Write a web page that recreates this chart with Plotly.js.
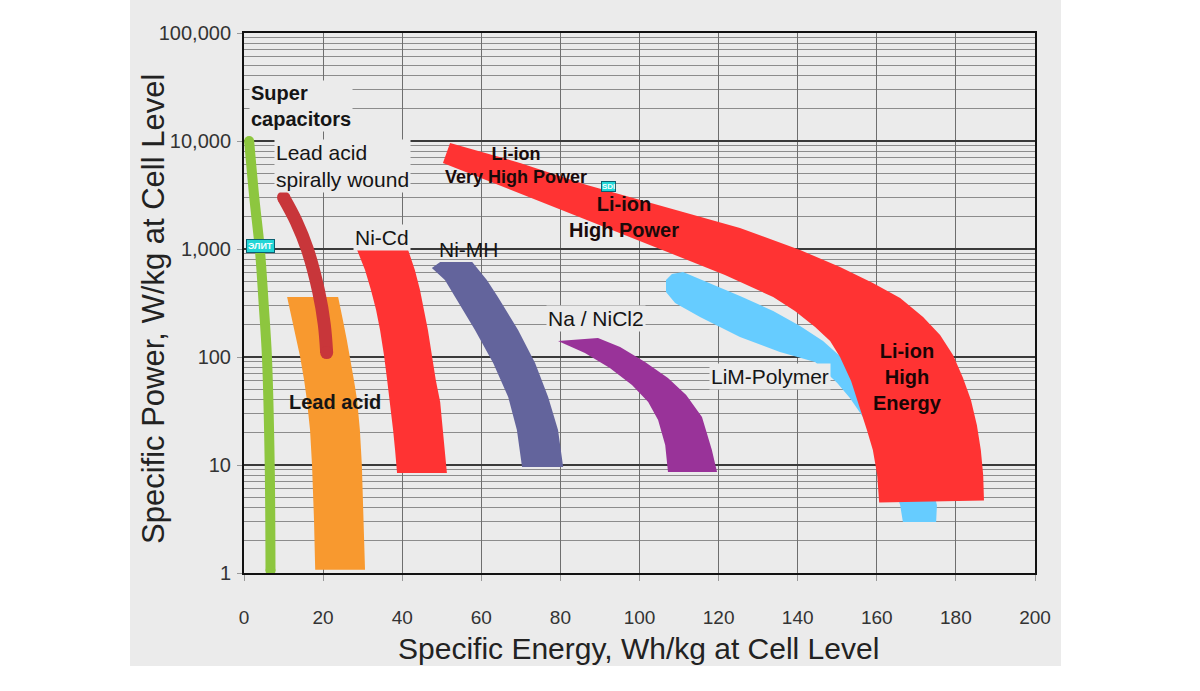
<!DOCTYPE html>
<html><head><meta charset="utf-8">
<script src="https://cdn.plot.ly/plotly-3.0.1.min.js"></script>
<style>html,body{margin:0;padding:0;background:#fff}#chart{width:1200px;height:691px}</style>
</head><body><div id="chart"></div>
<script>
// ---- Data (Specific Energy Wh/kg, Specific Power W/kg) ----
// Super capacitors (thin curve)
const superCapE = [1.3, 2.6, 4.0, 5.0, 5.8, 6.5, 6.7];
const superCapP = [10000, 3000, 1000, 300, 100, 10, 1.05];
// Lead acid spirally wound (thick curve)
const spiralE = [10.0, 13.2, 16.0, 18.9, 20.3, 20.9];
const spiralP = [3000, 1800, 1000, 400, 200, 110];
// Lead acid band (low / high energy edge at each power)
const leadAcidP = [359, 220, 144, 100, 61, 40, 21.1, 10, 3.1, 1.07];
const leadAcidLow = [10.9, 12.1, 13.2, 14.2, 15.2, 15.9, 16.7, 17.2, 17.7, 18.0];
const leadAcidHigh = [23.8, 25.0, 26.0, 26.8, 27.8, 28.6, 29.3, 29.8, 30.3, 30.6];
// Ni-Cd band
const niCdP = [979, 639, 417, 272, 178, 104, 61, 38.3, 21.1, 13.8, 8.43];
const niCdLow = [28.6, 30.6, 32.1, 33.4, 34.4, 35.4, 36.2, 36.9, 37.7, 38.2, 38.7];
const niCdHigh = [41.5, 43.2, 44.5, 45.5, 46.5, 47.5, 48.5, 49.6, 50.3, 50.8, 51.3];
// Ni-MH band
const niMhOuterE = [57.7, 61.4, 64.2, 69.3, 73.6, 76.9, 79.4, 80.7];
const niMhOuterP = [759, 517, 359, 178, 88, 42.6, 21.1, 9.58];
const niMhInnerE = [49.6, 47.5, 50.8, 53.4, 58.4, 63.0, 66.8, 69.0, 70.3];
const niMhInnerP = [759, 667, 517, 359, 178, 88, 42.6, 21.1, 9.58];
// Na / NiCl2 band
const naOuterE = [89.5, 95.1, 101.4, 107.2, 111.8, 115.8, 118.3, 119.6];
const naOuterP = [150, 124, 90, 64, 44.5, 27.8, 13.8, 8.6];
const naInnerE = [79.4, 86.2, 92.5, 98.1, 102.2, 104.7, 106.5, 107.2];
const naInnerP = [141, 109, 79, 55, 38.3, 26.1, 15.3, 8.6];
// LiM-Polymer band
const limOuterE = [106.7, 108.2, 111.0, 115.3, 125.4, 133.8, 140.6, 146.4, 153.2, 160.8, 168.4, 173.5, 175.2, 175.0];
const limOuterP = [517, 587, 612, 527, 367, 267, 194, 141, 84.3, 40, 15.3, 7.26, 4.26, 2.97];
const limInnerE = [106.7, 109.0, 115.3, 125.4, 135.5, 144.4, 150.0, 153.2, 156.5, 160.3, 163.3, 165.9, 166.6];
const limInnerP = [400, 316, 235, 153, 111, 90, 57.4, 41.7, 27.8, 15.3, 8.08, 4.26, 2.97];
// Li-ion band (very high power -> high power -> high energy)
const liOuterE = [52.1, 69.8, 86.7, 107.7, 125.4, 140.6, 150.7, 159.0, 165.9, 171.7, 176.0, 179.3, 181.8, 183.8, 185.3, 186.3, 186.9, 187.1];
const liOuterP = [9580, 6260, 3915, 2400, 1563, 979, 681, 484, 352, 235, 160, 104, 64, 40, 23.5, 13.8, 8.1, 4.7];
const liInnerE = [50.3, 69.8, 86.7, 107.7, 121.6, 133.8, 139.3, 144.4, 148.2, 150.7, 153.5, 155.8, 157.5, 159.0, 160.1, 160.6];
const liInnerP = [6260, 3300, 1856, 918, 574, 359, 267, 190, 141, 100, 60, 32.3, 21.1, 13.8, 8.1, 4.5];

const xTicks = [0, 20, 40, 60, 80, 100, 120, 140, 160, 180, 200];
const yTickVals = [1, 10, 100, 1000, 10000, 100000];
const yTickText = ["1", "10", "100", "1,000", "10,000", "100,000"];

// ---- helpers ----
function band(aE, aP, bE, bP, color, name) {
  return {
    type: 'scatter', mode: 'lines', name: name,
    x: aE.concat(bE.slice().reverse()),
    y: aP.concat(bP.slice().reverse()),
    fill: 'toself', fillcolor: color,
    line: {width: 0, color: color},
    hoverinfo: 'skip', showlegend: false
  };
}
function curve(E, P, color, w, name) {
  return {
    type: 'scatter', mode: 'lines', name: name, x: E, y: P,
    line: {color: color, width: w, shape: 'spline'}, hoverinfo: 'skip', showlegend: false
  };
}
function caps(E, P, color, w) {
  return {
    type: 'scatter', mode: 'markers',
    x: [E[0], E[E.length - 1]], y: [P[0], P[P.length - 1]],
    marker: {color: color, size: w, line: {width: 0}}, hoverinfo: 'skip', showlegend: false
  };
}

const GREEN = '#8dc63f', DARKRED = '#c8363a', ORANGE = '#f8992f', RED = '#ff3333',
      SLATE = '#63649c', PURPLE = '#993399', BLUE = '#66ccff';

const traces = [
  curve(superCapE, superCapP, GREEN, 10, 'Super capacitors'),
  caps(superCapE, superCapP, GREEN, 10),
  band(leadAcidLow, leadAcidP, leadAcidHigh, leadAcidP, ORANGE, 'Lead acid'),
  curve(spiralE, spiralP, DARKRED, 13, 'Lead acid spirally wound'),
  caps(spiralE, spiralP, DARKRED, 13),
  band(niCdLow, niCdP, niCdHigh, niCdP, RED, 'Ni-Cd'),
  band(niMhOuterE, niMhOuterP, niMhInnerE, niMhInnerP, SLATE, 'Ni-MH'),
  band(naOuterE, naOuterP, naInnerE, naInnerP, PURPLE, 'Na / NiCl2'),
  band(limOuterE, limOuterP, limInnerE, limInnerP, BLUE, 'LiM-Polymer'),
  band(liOuterE, liOuterP, liInnerE, liInnerP, RED, 'Li-ion')
];

// pixel -> paper helpers for label placement (plot area 244..1035 x 33..573)
const px = v => (v - 244) / 791;
const py = v => (573 - v) / 540;
const PANEL = '#ebebeb';
const FONT = 'Liberation Sans, Arial, Helvetica, sans-serif';

function label(text, x, y, opts) {
  opts = opts || {};
  return Object.assign({
    xref: 'paper', yref: 'paper', x: px(x), y: py(y), text: text, showarrow: false,
    xanchor: 'center', yanchor: 'middle', align: 'center',
    font: {family: FONT, size: 21, color: '#151515'}
  }, opts);
}

const annotations = [
  label('<b>Super<br>capacitors</b>', 249, 106, {xanchor: 'left', align: 'left', bgcolor: PANEL, font: {family: FONT, size: 20, color: '#151515'}}),
  label('Lead acid<br>spirally wound', 274, 166, {xanchor: 'left', align: 'left', bgcolor: PANEL}),
  label('Ni-Cd', 382, 237, {bgcolor: PANEL}),
  label('Ni-MH', 468, 249),
  label('Na / NiCl2', 596, 318, {bgcolor: PANEL}),
  label('LiM-Polymer', 770, 376, {bgcolor: PANEL}),
  label('<b>Li-ion<br>Very High Power</b>', 516, 165, {font: {family: FONT, size: 18, color: '#1a0a0a'}}),
  label('<b>Li-ion<br>High Power</b>', 624, 217, {font: {family: FONT, size: 20, color: '#1a0a0a'}}),
  label('<b>Lead acid</b>', 335, 402, {font: {family: FONT, size: 20, color: '#151515'}}),
  label('<b>Li-ion<br>High<br>Energy</b>', 907, 377, {font: {family: FONT, size: 20, color: '#1a0505'}}),
  label('<b>ЭЛИТ</b>', 260, 246, {bgcolor: '#22d6d6', bordercolor: '#0b5f70', borderwidth: 1, borderpad: 1, font: {family: FONT, size: 9, color: '#f4ffff'}}),
  label('<b>SDI</b>', 608, 186, {bgcolor: '#22d6d6', bordercolor: '#0b5f70', borderwidth: 1, borderpad: 0, font: {family: FONT, size: 8, color: '#f4ffff'}}),
  // axis titles
  label('Specific Energy, Wh/kg at Cell Level', 638, 648, {font: {family: FONT, size: 30, color: '#222'}}),
  label('Specific Power, W/kg at Cell Level', 153, 309, {textangle: -90, font: {family: FONT, size: 31, color: '#222'}})
];

const layout = {
  width: 1200, height: 691,
  margin: {l: 244, r: 165, t: 33, b: 118, pad: 0},
  paper_bgcolor: '#ffffff', plot_bgcolor: PANEL,
  showlegend: false,
  font: {family: FONT, color: '#333'},
  xaxis: {
    range: [0, 200], tickvals: xTicks, ticktext: xTicks.map(String),
    showgrid: true, gridcolor: '#6e6e6e', gridwidth: 1,
    zeroline: false, showline: true, linecolor: '#111', linewidth: 2, mirror: true,
    ticks: 'outside', ticklen: 6, tickcolor: '#999', ticklabelstandoff: 20,
    tickfont: {family: FONT, size: 19, color: '#333'}
  },
  yaxis: {
    type: 'log', range: [0, 5], tickmode: 'array', tickvals: yTickVals, ticktext: yTickText,
    showgrid: true, gridcolor: '#3a3a3a', gridwidth: 1.5,
    minor: {dtick: 'D1', showgrid: true, gridcolor: '#8c8c8c', gridwidth: 1, ticks: ''},
    zeroline: false, showline: true, linecolor: '#111', linewidth: 2, mirror: true,
    ticks: 'outside', ticklen: 5, tickcolor: '#999', ticklabelstandoff: 2,
    tickfont: {family: FONT, size: 20, color: '#333'}
  },
  shapes: [{
    type: 'rect', xref: 'paper', yref: 'paper', layer: 'below',
    x0: px(130), x1: px(1061), y0: py(666), y1: py(0),
    fillcolor: PANEL, line: {width: 0}
  }],
  annotations: annotations
};

Plotly.newPlot('chart', traces, layout, {staticPlot: true, displayModeBar: false});
</script></body></html>
